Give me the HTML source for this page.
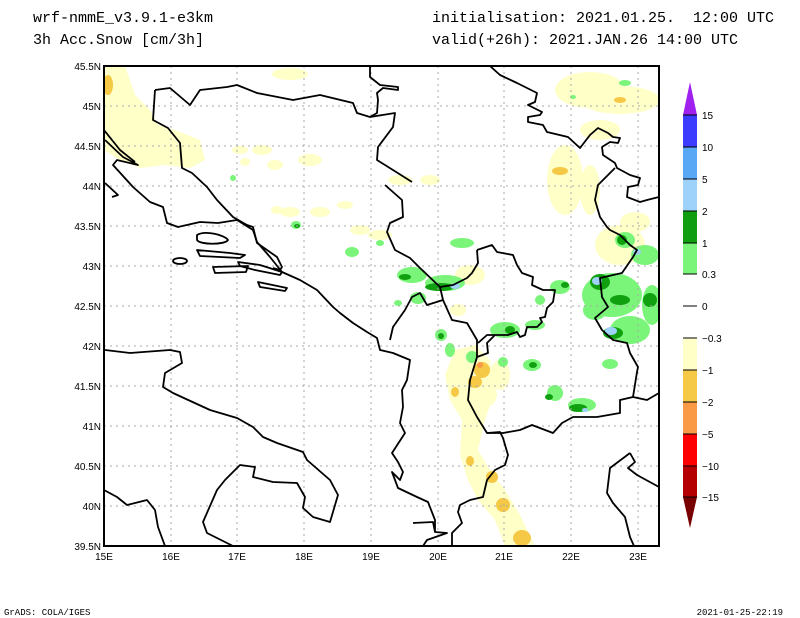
<!DOCTYPE html>
<html><head><meta charset="utf-8"><style>
html,body{margin:0;padding:0;background:#fff;}
svg{display:block;}
.t{font-family:"Liberation Mono",monospace;font-size:15px;fill:#000;}
.s{font-family:"Liberation Sans",sans-serif;font-size:10px;fill:#000;}
</style></head><body>
<svg width="800" height="618" viewBox="0 0 800 618" xmlns="http://www.w3.org/2000/svg">
<rect width="800" height="618" fill="#fff"/>
<text class="t" x="33" y="22">wrf-nmmE_v3.9.1-e3km</text>
<text class="t" x="33" y="44">3h Acc.Snow [cm/3h]</text>
<text class="t" x="432" y="22" xml:space="preserve">initialisation: 2021.01.25.  12:00 UTC</text>
<text class="t" x="432" y="44">valid(+26h): 2021.JAN.26 14:00 UTC</text>
<defs><clipPath id="c"><rect x="104" y="66" width="555" height="480"/></clipPath></defs>
<g clip-path="url(#c)">
<g fill="#ffffc8">
<path d="M104,66 L125,66 L135,95 L150,110 L158,125 L175,130 L200,140 L205,160 L190,168 L165,165 L140,168 L120,160 L104,150Z"/>
<ellipse cx="290" cy="74" rx="18" ry="6"/>
<ellipse cx="240" cy="150" rx="8" ry="4"/><ellipse cx="262" cy="150" rx="10" ry="5"/><ellipse cx="275" cy="165" rx="8" ry="5"/>
<ellipse cx="245" cy="162" rx="5" ry="4"/><ellipse cx="290" cy="212" rx="10" ry="5"/><ellipse cx="277" cy="210" rx="6" ry="4"/>
<ellipse cx="320" cy="212" rx="10" ry="5"/><ellipse cx="345" cy="205" rx="8" ry="4"/><ellipse cx="310" cy="160" rx="12" ry="6"/>
<ellipse cx="360" cy="230" rx="10" ry="5"/><ellipse cx="380" cy="235" rx="12" ry="5"/>
<ellipse cx="400" cy="180" rx="12" ry="5"/><ellipse cx="430" cy="180" rx="10" ry="5"/>
<ellipse cx="590" cy="90" rx="35" ry="18"/><ellipse cx="620" cy="100" rx="40" ry="14"/><ellipse cx="600" cy="130" rx="20" ry="10"/>
<ellipse cx="565" cy="180" rx="18" ry="35"/><ellipse cx="590" cy="190" rx="10" ry="25"/>
<ellipse cx="620" cy="245" rx="25" ry="20"/><ellipse cx="635" cy="222" rx="15" ry="10"/>
<ellipse cx="470" cy="275" rx="15" ry="10"/><ellipse cx="458" cy="310" rx="8" ry="6"/>
<path d="M455,350 L475,345 L490,360 L495,390 L485,420 L478,450 L490,470 L505,490 L520,515 L535,546 L505,546 L495,520 L478,500 L468,480 L460,455 L462,420 L450,400 L445,375Z"/>
<ellipse cx="500" cy="375" rx="10" ry="15"/><ellipse cx="485" cy="395" rx="12" ry="12"/>
</g>
<g fill="#f5c846">
<ellipse cx="108" cy="85" rx="5" ry="10"/><ellipse cx="560" cy="171" rx="8" ry="4"/><ellipse cx="620" cy="100" rx="6" ry="3"/>
<ellipse cx="482" cy="370" rx="8" ry="8"/><ellipse cx="475" cy="382" rx="7" ry="6"/><ellipse cx="455" cy="392" rx="4" ry="5"/>
<ellipse cx="470" cy="461" rx="4" ry="5"/><ellipse cx="492" cy="477" rx="6" ry="6"/><ellipse cx="503" cy="505" rx="7" ry="7"/><ellipse cx="522" cy="538" rx="9" ry="8"/>
</g>
<ellipse cx="480" cy="365" rx="3" ry="3" fill="#fa9a46"/>
<g fill="#7af57a">
<ellipse cx="296" cy="225" rx="5" ry="4"/><ellipse cx="233" cy="178" rx="3" ry="3"/><ellipse cx="352" cy="252" rx="7" ry="5"/><ellipse cx="380" cy="243" rx="4" ry="3"/>
<ellipse cx="462" cy="243" rx="12" ry="5"/><ellipse cx="412" cy="275" rx="15" ry="8"/><ellipse cx="445" cy="283" rx="20" ry="8"/>
<ellipse cx="418" cy="298" rx="8" ry="6"/><ellipse cx="398" cy="303" rx="4" ry="3"/><ellipse cx="441" cy="335" rx="6" ry="6"/>
<ellipse cx="450" cy="350" rx="5" ry="7"/><ellipse cx="472" cy="357" rx="6" ry="6"/>
<ellipse cx="505" cy="330" rx="15" ry="8"/><ellipse cx="535" cy="325" rx="10" ry="5"/><ellipse cx="503" cy="362" rx="5" ry="5"/>
<ellipse cx="532" cy="365" rx="9" ry="6"/><ellipse cx="560" cy="287" rx="10" ry="7"/><ellipse cx="540" cy="300" rx="5" ry="5"/>
<ellipse cx="612" cy="295" rx="30" ry="22"/><ellipse cx="595" cy="310" rx="12" ry="10"/><ellipse cx="630" cy="330" rx="20" ry="14"/>
<ellipse cx="625" cy="240" rx="10" ry="8"/><ellipse cx="645" cy="255" rx="14" ry="10"/><ellipse cx="652" cy="305" rx="10" ry="20"/>
<ellipse cx="555" cy="393" rx="8" ry="8"/><ellipse cx="582" cy="405" rx="14" ry="7"/><ellipse cx="610" cy="364" rx="8" ry="5"/>
<ellipse cx="625" cy="83" rx="6" ry="3"/><ellipse cx="573" cy="97" rx="3" ry="2"/>
</g>
<g fill="#10a010">
<ellipse cx="297" cy="226" rx="3" ry="2"/><ellipse cx="405" cy="277" rx="6" ry="3"/><ellipse cx="440" cy="287" rx="15" ry="4"/>
<ellipse cx="441" cy="336" rx="3" ry="3"/><ellipse cx="510" cy="330" rx="5" ry="4"/><ellipse cx="533" cy="365" rx="4" ry="3"/>
<ellipse cx="565" cy="285" rx="4" ry="3"/><ellipse cx="600" cy="282" rx="10" ry="8"/><ellipse cx="620" cy="300" rx="10" ry="5"/>
<ellipse cx="622" cy="240" rx="5" ry="5"/><ellipse cx="650" cy="300" rx="7" ry="7"/><ellipse cx="613" cy="333" rx="10" ry="6"/>
<ellipse cx="549" cy="397" rx="4" ry="3"/><ellipse cx="578" cy="408" rx="9" ry="4"/>
</g>
<g fill="#9fd2fa">
<ellipse cx="597" cy="281" rx="5" ry="4"/><ellipse cx="611" cy="331" rx="6" ry="4"/><ellipse cx="637" cy="252" rx="4" ry="3"/><ellipse cx="455" cy="286" rx="5" ry="3"/><ellipse cx="585" cy="410" rx="3" ry="2"/>
</g>
<g stroke="#aaa" stroke-width="1" stroke-dasharray="2,4" fill="none">
<path d="M171,66V546M237,66V546M304,66V546M371,66V546M438,66V546M504,66V546M571,66V546M638,66V546"/>
<path d="M104,106H659M104,146H659M104,186H659M104,226H659M104,266H659M104,306H659M104,346H659M104,386H659M104,426H659M104,466H659M104,506H659"/>
</g>
<g stroke="#000" stroke-width="1.8" fill="none" stroke-linejoin="round">
<polyline points="155,90 170,88 190,105 200,90 227,87 237,85 257,93 293,100 320,95 353,103 357,113 370,117 377,113 378,100 377,93 383,88 398,90 398,87 380,85 370,77 370,66"/>
<polyline points="155,90 153,120 168,128 180,143 182,168 192,173 207,187 217,200 233,217 247,225 253,227 257,243 277,257 282,267 280,270 273,268"/>
<polyline points="370,117 395,113 393,127 378,147 377,160 393,170 412,182"/>
<polyline points="385,185 402,200 403,217 390,223 387,232 395,250 410,258 420,268 440,287"/>
<polyline points="105,140 123,157 138,165 117,160 113,165 133,187 150,202 163,207 167,223 178,227 200,222 218,223 237,220 253,230 257,242 270,257 282,272 300,280 317,290 333,307 340,313 353,323 367,332 377,338 380,350 393,353 410,360 407,380 402,390 403,407 400,423 405,433 392,453 398,462 403,472 400,480 392,472 398,488 417,497 428,502 435,520 435,532 447,533 427,540 423,546"/>
<polyline points="104,130 120,150 135,162"/>
<polyline points="105,183 118,195 112,197"/>
<path d="M197,235 C205,230 225,235 228,240 C225,245 200,245 197,240Z"/>
<path d="M197,250 L230,253 L245,255 L240,258 L200,256Z"/>
<ellipse cx="180" cy="261" rx="7" ry="3"/>
<path d="M213,267 L248,266 L246,272 L215,273Z"/>
<path d="M238,262 L260,265 L282,272 L280,275 L255,270 L240,266Z"/>
<path d="M258,282 L287,288 L285,291 L260,287Z"/>
<polyline points="105,350 130,353 170,350 180,352 182,363 165,373 163,387 173,393 210,410 237,418 253,427 263,437 277,443 303,452 307,460 330,480 338,495 330,522 313,517 303,508 305,497 297,483 273,482 253,477 255,467 240,465 225,480 217,490 203,522 207,533 233,546"/>
<polyline points="104,490 117,497 127,505 147,500 155,510 158,527 165,546"/>
<polyline points="490,66 500,75 517,83 537,93 535,102 528,105 542,112 540,115 528,117 528,122 543,125 547,132 568,137 580,148 590,135 598,128 608,133 613,137 620,138 618,143 610,142 602,147 603,155 615,163 617,168 630,175 640,178 638,185 628,187 627,197 640,202 647,200 659,197"/>
<polyline points="615,168 598,185 595,200 600,217 607,227 610,230 620,235 630,245 637,250 633,257 622,273 600,278 602,297 608,307 595,318 602,330 613,340 627,343 630,353 638,367 637,372 633,397 620,400 620,413 597,417 573,417 562,423 553,433 532,425 520,430 503,433 487,433"/>
<polyline points="633,397 647,400 659,393"/>
<polyline points="477,250 492,245 497,252 513,255 517,265 522,273 533,277 532,285 543,290 555,290 553,302 547,308 545,317 540,318 542,322 537,327 527,327 525,335 520,337 517,332 508,335 487,335 478,343"/>
<polyline points="477,250 478,263 472,273 467,278 453,285 440,287 443,300 427,305 420,293 412,297 405,310 393,327 390,340"/>
<polyline points="443,300 452,320 467,323 477,340 477,357 488,353 487,343 495,335"/>
<polyline points="477,357 470,380 468,400 477,417 487,433 500,432 503,438 508,455 505,465 495,470 487,480 483,497 470,500 460,505 458,512 462,523 452,533 452,546"/>
<polyline points="413,523 433,522 435,532"/>
<polyline points="630,453 635,462 628,468 637,475 659,487"/>
<polyline points="630,453 610,468 607,493 613,503 625,517 630,537 634,546"/>
</g>
</g>
<rect x="104" y="66" width="555" height="480" fill="none" stroke="#000" stroke-width="2"/>
<g class="s" text-anchor="end">
<text x="101" y="70">45.5N</text><text x="101" y="110">45N</text><text x="101" y="150">44.5N</text><text x="101" y="190">44N</text>
<text x="101" y="230">43.5N</text><text x="101" y="270">43N</text><text x="101" y="310">42.5N</text><text x="101" y="350">42N</text>
<text x="101" y="390">41.5N</text><text x="101" y="430">41N</text><text x="101" y="470">40.5N</text><text x="101" y="510">40N</text><text x="101" y="550">39.5N</text>
</g>
<g class="s" text-anchor="middle">
<text x="104" y="560">15E</text><text x="171" y="560">16E</text><text x="237" y="560">17E</text><text x="304" y="560">18E</text><text x="371" y="560">19E</text>
<text x="438" y="560">20E</text><text x="504" y="560">21E</text><text x="571" y="560">22E</text><text x="638" y="560">23E</text>
</g>
<polygon points="690,82 697,115 683,115" fill="#a020f0"/>
<rect x="683" y="115" width="14" height="32" fill="#3c3cff"/>
<rect x="683" y="147" width="14" height="32" fill="#58a8f5"/>
<rect x="683" y="179" width="14" height="32" fill="#9fd2fa"/>
<rect x="683" y="211" width="14" height="32" fill="#109e10"/>
<rect x="683" y="243" width="14" height="31" fill="#7af57a"/>
<rect x="683" y="338" width="14" height="32" fill="#ffffc8"/>
<rect x="683" y="370" width="14" height="32" fill="#f5c846"/>
<rect x="683" y="402" width="14" height="32" fill="#fa9a46"/>
<rect x="683" y="434" width="14" height="32" fill="#ff0000"/>
<rect x="683" y="466" width="14" height="31" fill="#b40000"/>
<polygon points="683,497 697,497 690,528" fill="#780000"/>
<g stroke="#000" stroke-width="1"><path d="M683,115H697M683,147H697M683,179H697M683,211H697M683,243H697M683,274H697M683,306H697M683,338H697M683,370H697M683,402H697M683,434H697M683,466H697M683,497H697"/></g>
<g class="s" font-size="11">
<text x="702" y="119">15</text><text x="702" y="151">10</text><text x="702" y="183">5</text><text x="702" y="215">2</text><text x="702" y="247">1</text>
<text x="702" y="278">0.3</text><text x="702" y="310">0</text><text x="702" y="342">−0.3</text><text x="702" y="374">−1</text><text x="702" y="406">−2</text>
<text x="702" y="438">−5</text><text x="702" y="470">−10</text><text x="702" y="501">−15</text>
</g>
<text x="4" y="615" style="font-family:'Liberation Mono',monospace;font-size:9px">GrADS: COLA/IGES</text>
<text x="783" y="615" text-anchor="end" style="font-family:'Liberation Mono',monospace;font-size:9px">2021-01-25-22:19</text>
</svg>
</body></html>
